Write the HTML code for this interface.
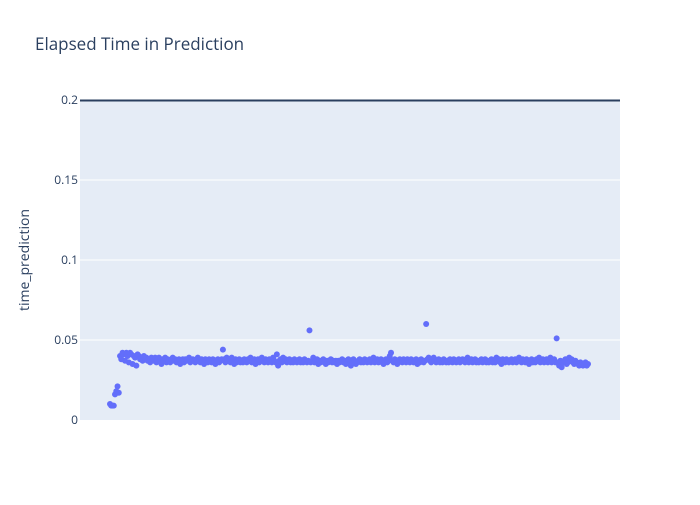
<!DOCTYPE html>
<html><head><meta charset="utf-8"><style>
body{margin:0;background:#fff;font-family:"Open Sans","Liberation Sans",sans-serif}
</style></head><body>
<svg id="chart" width="700" height="500">
<rect x="0" y="0" width="700" height="500" fill="#fff"/>
<rect x="80" y="100" width="540" height="320" fill="#e5ecf6"/>
<g id="grid"></g>
<g id="pts"></g>
<line x1="80" x2="620" y1="100.5" y2="100.5" stroke="#2a3f5f" stroke-width="2"/>
<text x="35" y="50" font-size="17" fill="#2a3f5f">Elapsed Time in Prediction</text>
<text transform="translate(29,260) rotate(-90)" text-anchor="middle" font-size="14" fill="#2a3f5f">time_prediction</text>
<g id="yt"></g>
</svg>
<script>
const yTicks=[0,0.05,0.1,0.15,0.2];
const yTickLabels=["0","0.05","0.1","0.15","0.2"];
const values=[0.010,0.009,0.009,0.009,0.016,0.018,0.021,0.017,
0.040,0.038,0.042,0.041,0.037,0.042,0.040,0.036,0.042,0.041,0.035,0.040,0.039,0.034,0.041,0.040,0.038,0.039,0.037,0.040,0.038,0.039,
0.037,0.038,0.036,0.039,0.038,0.037,0.039,0.036,0.038,0.039,0.037,0.035,0.038,0.037,0.039,0.036,0.038,0.037,0.036,0.038,
0.039,0.037,0.038,0.036,0.037,0.038,0.035,0.037,0.038,0.036,0.038,0.037,0.038,0.039,0.036,0.037,0.038,0.037,0.036,0.038,
0.039,0.037,0.036,0.038,0.037,0.035,0.038,0.037,0.036,0.038,0.037,0.036,0.038,0.037,0.035,0.037,0.038,0.036,0.037,0.038,
0.044,0.038,0.036,0.039,0.037,0.038,0.036,0.039,0.037,0.035,0.038,0.036,0.037,0.038,0.036,
0.037,0.036,0.038,0.037,0.036,0.038,0.037,0.039,0.036,0.037,0.038,0.035,0.037,0.038,0.036,0.037,0.039,0.037,0.036,0.038,
0.037,0.036,0.038,0.037,0.036,0.039,0.037,0.036,0.041,0.034,0.037,0.038,0.036,0.039,0.037,0.038,0.036,0.037,0.038,0.036,
0.037,0.036,0.038,0.037,0.036,0.037,0.038,0.036,0.037,0.036,0.038,0.037,0.036,0.037,0.056,0.036,
0.037,0.039,0.036,0.037,0.038,0.035,0.037,0.036,0.037,0.038,0.036,0.035,0.037,0.036,0.037,0.038,0.036,0.037,0.036,0.037,
0.035,0.037,0.036,0.037,0.038,0.036,0.037,0.035,0.036,0.038,0.037,0.034,0.036,0.038,0.037,0.035,0.036,0.037,0.038,0.036,
0.037,0.036,0.038,0.037,0.036,0.037,0.038,0.036,0.037,0.039,0.036,0.037,0.038,0.036,0.037,0.038,0.036,0.035,0.037,0.038,
0.036,0.037,0.040,0.042,0.037,0.036,0.038,0.037,0.035,0.036,0.038,0.037,0.036,0.038,0.037,0.036,0.038,
0.037,0.036,0.038,0.037,0.036,0.037,0.038,0.035,0.037,0.036,0.038,0.037,0.036,0.037,0.060,0.038,0.039,0.037,0.036,0.038,0.039,0.037,0.036,0.037,0.038,0.036,0.037,0.036,0.038,0.037,
0.036,0.037,0.036,0.038,0.037,0.036,0.038,0.037,0.036,0.037,0.038,0.036,0.037,0.038,0.037,0.036,0.038,0.039,0.036,0.037,
0.038,0.036,0.037,0.038,0.036,0.037,0.036,0.037,0.038,0.036,0.037,0.038,0.036,0.037,0.036,0.037,0.038,0.036,0.037,0.036,
0.039,0.037,0.038,0.036,0.035,0.038,0.037,0.036,0.038,0.037,0.036,0.037,0.038,0.036,0.037,0.038,0.036,0.037,0.039,0.037,
0.036,0.038,0.037,0.036,0.038,0.037,0.035,0.037,0.038,0.036,0.037,0.036,0.038,0.037,0.039,0.036,0.037,0.038,0.036,0.037,
0.038,0.036,0.037,0.039,0.036,0.037,0.038,0.036,
0.051,0.036,0.034,0.037,0.033,0.036,0.037,0.038,0.035,0.036,0.039,0.037,0.038,0.036,0.035,0.037,0.036,0.035,0.034,0.036,
0.035,0.034,0.035,0.036,0.034,0.035];
const NS="http://www.w3.org/2000/svg";
const X0=110,X1=588,Y0=420,Y1=100;
const xS=i=>X0+(X1-X0)*i/(values.length-1);
const yS=v=>Y0+(Y1-Y0)*(v-0)/(0.2-0);
const grid=document.getElementById('grid'),yt=document.getElementById('yt'),pts=document.getElementById('pts');
yTicks.forEach((t,k)=>{
  if(k>0&&k<yTicks.length-1){const l=document.createElementNS(NS,'line');
  l.setAttribute('x1',80);l.setAttribute('x2',620);l.setAttribute('y1',yS(t));l.setAttribute('y2',yS(t));
  l.setAttribute('stroke','#fff');l.setAttribute('stroke-width',1);
  
  
  grid.appendChild(l);}
  const tx=document.createElementNS(NS,'text');
  tx.setAttribute('x',78);tx.setAttribute('y',yS(t)+4);tx.setAttribute('text-anchor','end');
  tx.setAttribute('font-size',12);tx.setAttribute('fill','#2a3f5f');tx.textContent=yTickLabels[k];
  
  
  yt.appendChild(tx);
});
values.forEach((v,i)=>{
  const c=document.createElementNS(NS,'circle');
  c.setAttribute('cx',xS(i));c.setAttribute('cy',yS(v));c.setAttribute('r',3);c.setAttribute('fill','#636efa');
  
  
  pts.appendChild(c);
});
</script>
</body></html>
